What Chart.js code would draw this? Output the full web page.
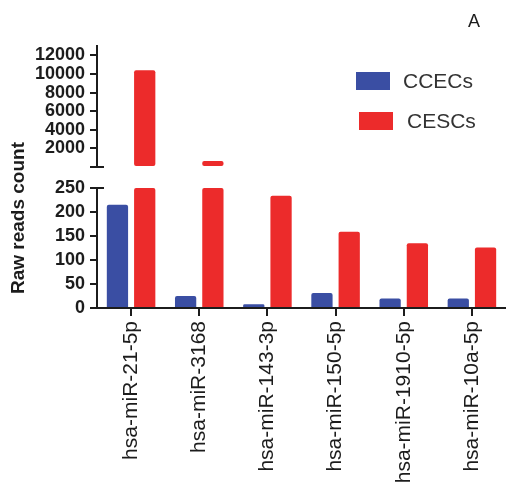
<!DOCTYPE html>
<html>
<head>
<meta charset="utf-8">
<script src="https://cdn.jsdelivr.net/npm/chart.js@4.4.1/dist/chart.umd.min.js"></script>
<style>
  html, body { margin: 0; padding: 0; background: #fff; }
  #wrap { width: 506px; height: 483px; position: relative; }
</style>
</head>
<body>
<div id="wrap"><canvas id="chart"></canvas></div>
<script>
// data
const categories = ['hsa-miR-21-5p', 'hsa-miR-3168', 'hsa-miR-143-3p', 'hsa-miR-150-5p', 'hsa-miR-1910-5p', 'hsa-miR-10a-5p'];
const seriesNames = ['CCECs', 'CESCs'];
const ccecs = [215, 25, 8, 31, 20, 20];
const cescs = [10400, 640, 234, 159, 135, 126];
const lowTicks = [0, 50, 100, 150, 200, 250];
const highTicks = [2000, 4000, 6000, 8000, 10000, 12000];
const highTop = 13000;
const yTitle = 'Raw reads count';
const panelLabel = 'A';

const colors = ['#3a4ea3', '#ec2b2b'];
const ink = '#1c1c1c';
const font = '"Liberation Sans", Arial, sans-serif';
const lowMax = lowTicks[lowTicks.length - 1];

// each series is drawn twice: clipped at the break on the lower axis, and on the upper axis if it passes the break
function lowPart(arr) { return arr.map(v => Math.min(v, lowMax)); }
function highPart(arr) { return arr.map(v => v > lowMax ? v : null); }

const datasets = [];
[ccecs, cescs].forEach(function (arr, i) {
    datasets.push({label: seriesNames[i], data: lowPart(arr), yAxisID: 'yLow', stack: 's' + i,
        backgroundColor: colors[i], borderRadius: 2, borderSkipped: 'bottom'});
});
[ccecs, cescs].forEach(function (arr, i) {
    datasets.push({label: seriesNames[i] + '_hi', data: highPart(arr), yAxisID: 'yHigh', stack: 's' + i,
        backgroundColor: colors[i], borderRadius: 2, borderSkipped: false});
});

const axisLine = {color: ink, width: 2};
const tickGrid = {drawOnChartArea: false, drawTicks: true, tickLength: 7, color: ink, lineWidth: 2};
const tickFont = {family: font, size: 18, weight: 'bold'};

// the y axis title, legend, panel letter and the break caps
const extras = {
    id: 'extras',
    afterDraw: function (chart) {
        const ctx = chart.ctx;
        ctx.save();
        ctx.fillStyle = ink;
        ctx.font = 'bold 19px ' + font;
        ctx.textAlign = 'center';
        ctx.textBaseline = 'middle';
        ctx.translate(19, 218);
        ctx.rotate(-Math.PI / 2);
        ctx.fillText(yTitle, 0, 0);
        ctx.restore();

        ctx.save();
        ctx.font = '18px ' + font;
        ctx.fillStyle = ink;
        ctx.textAlign = 'center';
        ctx.textBaseline = 'middle';
        ctx.fillText(panelLabel, 474, 22);

        ctx.font = '21px ' + font;
        ctx.textAlign = 'left';
        seriesNames.forEach(function (name, i) {
            const y = 81 + i * 40;
            ctx.fillStyle = colors[i];
            ctx.fillRect(356 + i * 3, y - 9, 34, 18);
            ctx.fillStyle = '#333';
            ctx.fillText(name, 403 + i * 4, y + 1);
        });

        // caps either side of the axis where it is broken
        const low = chart.scales.yLow, high = chart.scales.yHigh;
        const ax = low.right;
        ctx.strokeStyle = ink;
        ctx.lineWidth = 2;
        [low.getPixelForValue(lowMax), high.getPixelForValue(0)].forEach(function (py) {
            ctx.beginPath();
            ctx.moveTo(ax - 7, py);
            ctx.lineTo(ax + 7, py);
            ctx.stroke();
        });
        ctx.restore();
    }
};

new Chart(document.getElementById('chart'), {
    type: 'bar',
    data: {labels: categories, datasets: datasets},
    options: {
        responsive: true,
        maintainAspectRatio: false,
        animation: false,
        categoryPercentage: 0.8,
        barPercentage: 0.78,
        layout: {padding: {top: 46, left: 0, right: 0, bottom: 0}},
        plugins: {legend: {display: false}, tooltip: {enabled: false}},
        scales: {
            x: {
                border: axisLine,
                grid: {drawOnChartArea: false, drawTicks: true, tickLength: 8, color: ink, lineWidth: 2, offset: false},
                ticks: {color: ink, font: {family: font, size: 21}, minRotation: 90, maxRotation: 90, autoSkip: false, padding: 5},
                afterFit: function (s) { s.height = 175; }
            },
            yLow: {
                type: 'linear', position: 'left', stack: 'y', stackWeight: 120, stacked: false,
                min: 0, max: lowMax,
                border: axisLine, grid: tickGrid,
                ticks: {autoSkip: false, color: ink, font: tickFont, padding: 5},
                afterBuildTicks: function (s) { s.ticks = lowTicks.map(v => ({value: v})); },
                afterFit: function (s) { s.width = 97; }
            },
            yGap: {
                type: 'linear', position: 'left', stack: 'y', stackWeight: 21, display: true,
                min: 0, max: 1,
                border: {display: false}, grid: {display: false}, ticks: {display: false},
                afterFit: function (s) { s.width = 97; }
            },
            yHigh: {
                type: 'linear', position: 'left', stack: 'y', stackWeight: 121, stacked: false,
                min: 0, max: highTop,
                border: axisLine, grid: tickGrid,
                ticks: {
                    autoSkip: false, color: ink, font: tickFont, padding: 5,
                    callback: function (v) { return v === 0 ? '' : String(v); }
                },
                afterBuildTicks: function (s) { s.ticks = [0].concat(highTicks).map(v => ({value: v})); },
                afterFit: function (s) { s.width = 97; }
            }
        }
    },
    plugins: [extras]
});
</script>
</body>
</html>
